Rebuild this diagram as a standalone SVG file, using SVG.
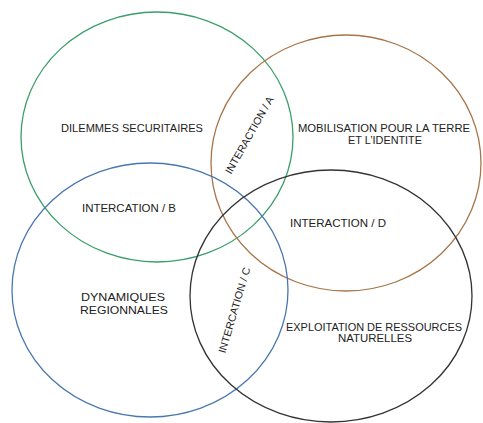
<svg xmlns="http://www.w3.org/2000/svg" width="483" height="423" viewBox="0 0 483 423">
<style>
.c{fill:none;stroke-width:1.3}
text{font-family:"Liberation Sans","DejaVu Sans",sans-serif;font-size:10.5px;fill:#222;text-anchor:middle}
</style>
<rect width="483" height="423" fill="#fff"/>
<g id="connectors"></g>
<g id="dilemmes">
<ellipse class="c" cx="157" cy="137" rx="136" ry="125" stroke="#3a9e6a"/>
<text x="132" y="132" textLength="142" lengthAdjust="spacingAndGlyphs">DILEMMES SECURITAIRES</text>
</g>
<g id="mobilisation">
<ellipse class="c" cx="346" cy="163" rx="135" ry="128" stroke="#a87548"/>
<text x="384" y="132" textLength="172" lengthAdjust="spacingAndGlyphs">MOBILISATION POUR LA TERRE</text>
<text x="385" y="144" textLength="74" lengthAdjust="spacingAndGlyphs">ET L’IDENTITE</text>
</g>
<g id="dynamiques">
<ellipse class="c" cx="150" cy="290" rx="138" ry="127" stroke="#4a77ad"/>
<text x="123" y="301" textLength="84" lengthAdjust="spacingAndGlyphs">DYNAMIQUES</text>
<text x="124" y="314" textLength="88" lengthAdjust="spacingAndGlyphs">REGIONNALES</text>
</g>
<g id="exploitation">
<ellipse class="c" cx="331" cy="296" rx="141" ry="126" stroke="#333"/>
<text x="374" y="331" textLength="176" lengthAdjust="spacingAndGlyphs">EXPLOITATION DE RESSOURCES</text>
<text x="375" y="342" textLength="74" lengthAdjust="spacingAndGlyphs">NATURELLES</text>
</g>
<g id="interaction-a">
<text transform="translate(249,135) rotate(-60.5)" y="4" textLength="87" lengthAdjust="spacingAndGlyphs">INTERACTION / A</text>
</g>
<g id="interaction-b">
<text x="129" y="212" textLength="94" lengthAdjust="spacingAndGlyphs">INTERCATION / B</text>
</g>
<g id="interaction-c">
<text transform="translate(234,310) rotate(-73.6)" y="4" textLength="89" lengthAdjust="spacingAndGlyphs">INTERCATION / C</text>
</g>
<g id="interaction-d">
<text x="338" y="227" textLength="96" lengthAdjust="spacingAndGlyphs">INTERACTION / D</text>
</g>
</svg>
